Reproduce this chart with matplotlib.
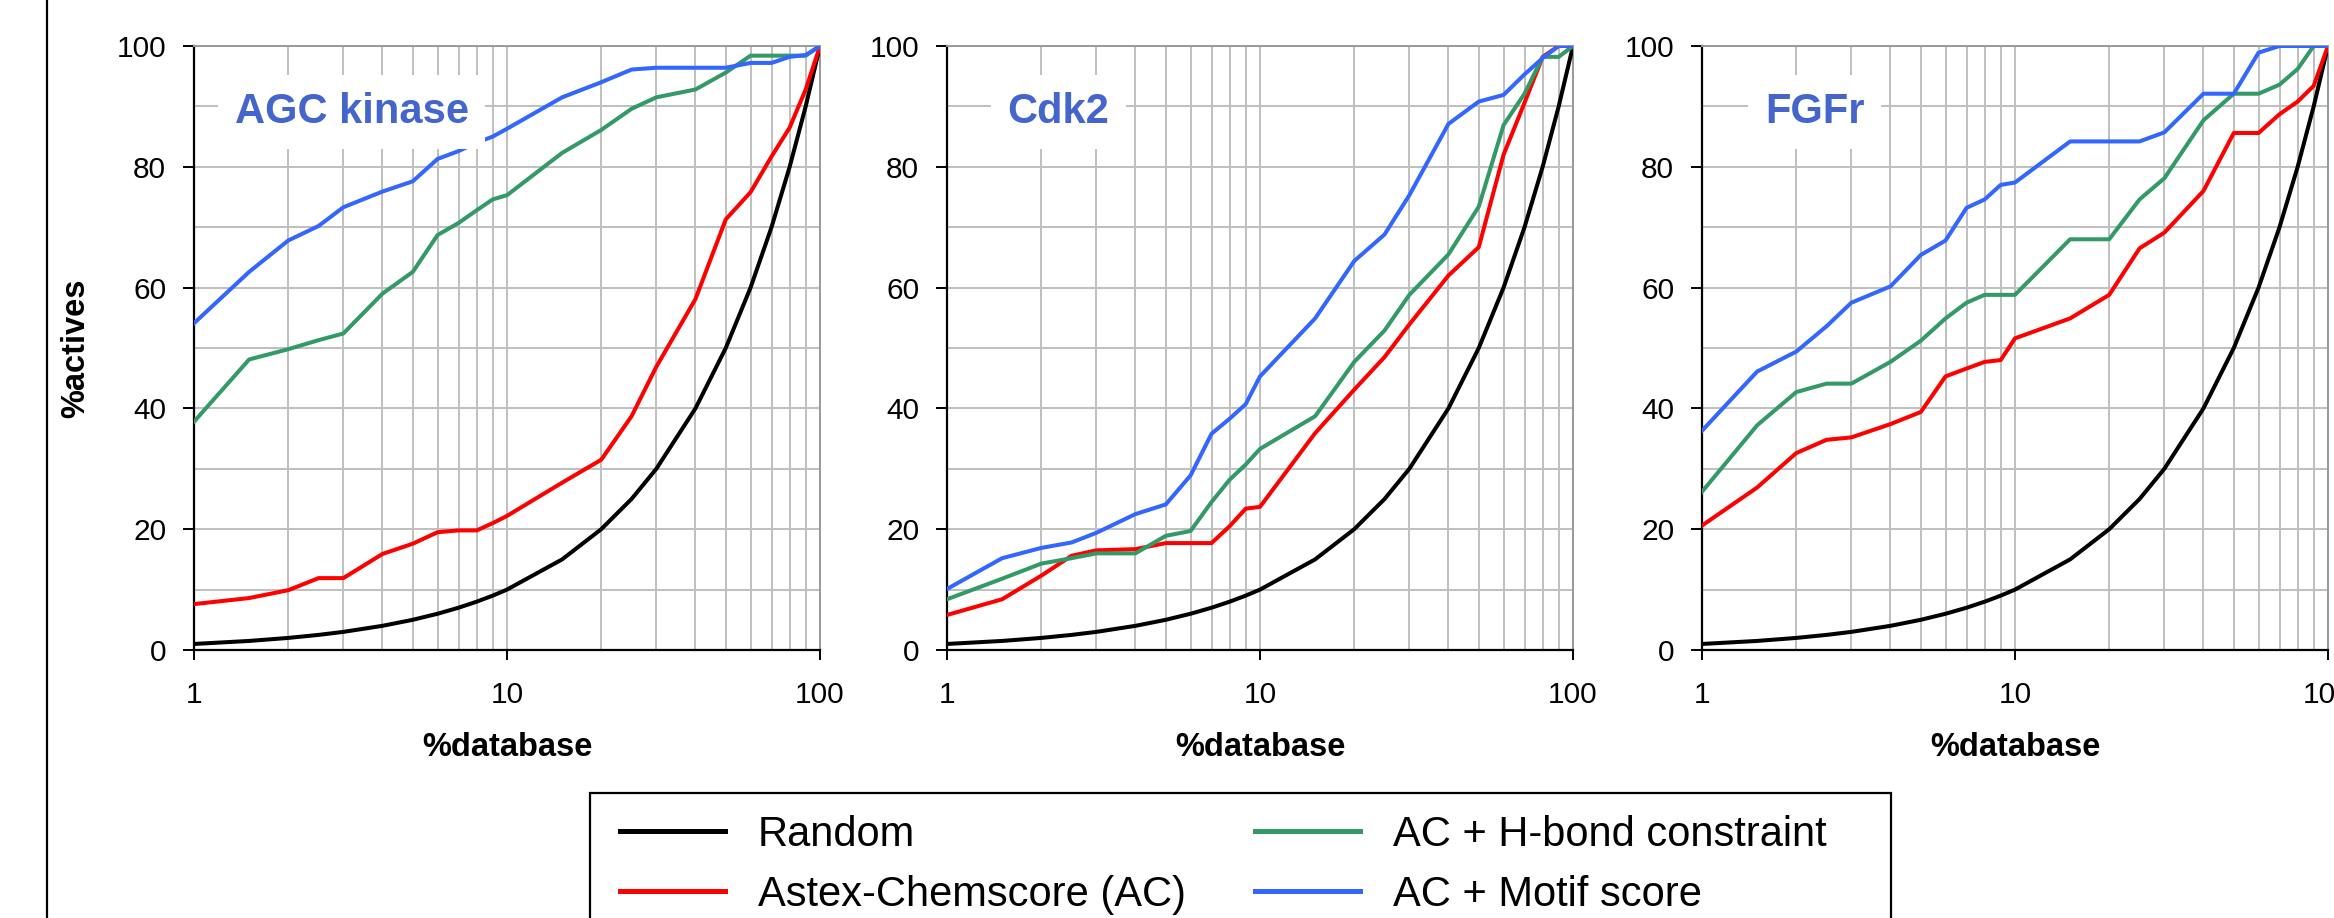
import matplotlib
matplotlib.use("Agg")
import matplotlib.pyplot as plt
from matplotlib.lines import Line2D
from matplotlib.patches import Rectangle
from matplotlib.ticker import MultipleLocator, FixedLocator, NullFormatter

plt.rcParams['font.family'] = ['Liberation Sans', 'DejaVu Sans']

# % database screened (shared x values)
pct_db = [1, 1.5, 2, 2.5, 3, 4, 5, 6, 7, 8, 9, 10, 15, 20, 25, 30, 40, 50, 60, 70, 80, 90, 100]
random_hits = [1, 1.5, 2, 2.5, 3, 4, 5, 6, 7, 8, 9, 10, 15, 20, 25, 30, 40, 50, 60, 70, 80, 90, 100]

panel_names = ["AGC kinase", "Cdk2", "FGFr"]

agc_ac = [7.6, 8.6, 9.9, 11.9, 11.9, 15.9, 17.6, 19.5, 19.8, 19.8, 21.0, 22.2, 27.7, 31.5,
          38.7, 46.9, 58.1, 71.3, 75.8, 81.7, 86.5, 92.8, 100]
agc_hbond = [37.8, 48.1, 49.8, 51.3, 52.4, 59.0, 62.6, 68.7, 70.7, 72.8, 74.6, 75.3, 82.3, 86.1,
             89.6, 91.5, 92.8, 95.6, 98.4, 98.4, 98.4, 98.4, 100]
agc_motif = [54.1, 62.6, 67.8, 70.2, 73.3, 75.9, 77.6, 81.3, 82.6, 84.0, 85.0, 86.3, 91.5, 94.0,
             96.1, 96.4, 96.4, 96.4, 97.2, 97.2, 98.2, 98.5, 100]

cdk2_ac = [5.8, 8.4, 12.3, 15.6, 16.5, 16.7, 17.7, 17.7, 17.7, 20.5, 23.4, 23.7, 35.9, 43.1,
           48.5, 53.9, 62.0, 66.7, 82.0, 90.6, 98.2, 100, 100]
cdk2_hbond = [8.4, 11.8, 14.3, 15.2, 16.0, 16.0, 18.9, 19.7, 24.5, 28.2, 30.7, 33.3, 38.7, 47.7,
              52.9, 58.8, 65.5, 73.4, 86.9, 92.1, 98.2, 98.2, 100]
cdk2_motif = [10.1, 15.2, 16.9, 17.8, 19.4, 22.5, 24.1, 28.9, 35.8, 38.3, 40.7, 45.3, 54.9, 64.4,
              68.8, 75.3, 87.1, 90.8, 91.9, 95.3, 98.0, 100, 100]

fgfr_ac = [20.6, 26.9, 32.6, 34.8, 35.2, 37.4, 39.4, 45.3, 46.6, 47.7, 48.0, 51.6, 54.9, 58.8,
           66.5, 69.1, 76.0, 85.6, 85.6, 88.7, 90.8, 93.4, 100]
fgfr_hbond = [26.2, 37.2, 42.7, 44.1, 44.1, 47.7, 51.2, 54.9, 57.5, 58.8, 58.8, 58.8, 68.0, 68.0,
              74.6, 78.1, 87.7, 92.1, 92.1, 93.6, 96.2, 100, 100]
fgfr_motif = [36.3, 46.1, 49.4, 53.6, 57.5, 60.2, 65.4, 67.8, 73.2, 74.6, 77.0, 77.4, 84.2, 84.2,
              84.2, 85.7, 92.1, 92.1, 98.9, 100, 100, 100, 100]

series_labels = ["Random", "Astex-Chemscore (AC)", "AC + H-bond constraint", "AC + Motif score"]
series_colors = ["#000000", "#FF0000", "#339966", "#3366FF"]

panel_data = [
    [random_hits, agc_ac, agc_hbond, agc_motif],
    [random_hits, cdk2_ac, cdk2_hbond, cdk2_motif],
    [random_hits, fgfr_ac, fgfr_hbond, fgfr_motif],
]
label_xpos = [0.2516, 0.178, 0.180]

W, H = 2334, 918
fig = plt.figure(figsize=(W / 100, H / 100), dpi=100)

lefts = [194, 947, 1702]
for i in range(3):
    ax = fig.add_axes([lefts[i] / W, 1 - 650 / H, 626 / W, 604 / H])
    for ys, lab, col in zip(panel_data[i], series_labels, series_colors):
        ax.plot(pct_db, ys, color=col, linewidth=2.9, label=lab, zorder=3)

    ax.set_xscale('log')
    ax.set_xlim(1, 100)
    ax.set_ylim(0, 100)
    ax.xaxis.set_major_locator(FixedLocator([1, 10, 100]))
    ax.set_xticklabels(["1", "10", "100"])
    ax.xaxis.set_minor_locator(FixedLocator([2, 3, 4, 5, 6, 7, 8, 9, 20, 30, 40, 50, 60, 70, 80, 90]))
    ax.xaxis.set_minor_formatter(NullFormatter())
    ax.yaxis.set_major_locator(MultipleLocator(20))
    ax.yaxis.set_minor_locator(MultipleLocator(10))
    ax.grid(True, which='both', color='#C0C0C0', linewidth=1.45, zorder=0)
    ax.set_axisbelow(True)

    ax.tick_params(axis='both', which='major', labelsize=21.5, width=1.4, color='black')
    ax.tick_params(axis='x', which='major', length=7.4, pad=15)
    ax.tick_params(axis='y', which='major', length=8, pad=12)
    ax.tick_params(which='minor', length=0)

    ax.spines['left'].set_linewidth(1.6)
    ax.spines['bottom'].set_linewidth(1.6)
    for s in ['top', 'right']:
        ax.spines[s].set_color('#999999')
        ax.spines[s].set_linewidth(1.4)

    ax.set_xlabel("%database", fontsize=23.5, fontweight='bold', va='center')
    ax.xaxis.set_label_coords(0.5, -(747.5 - 650) / 604)
    if i == 0:
        ax.set_ylabel("%actives", fontsize=23.5, fontweight='bold', va='center')
        ax.yaxis.set_label_coords((75.5 - 194) / 626, 0.5)

    ax.text(label_xpos[i], 0.891, panel_names[i], transform=ax.transAxes,
            fontsize=30, fontweight='bold', color='#4466CC', ha='center', va='center',
            zorder=5, bbox=dict(facecolor='white', edgecolor='none', pad=12))

# vertical rule on the left edge
fig.add_artist(Line2D([47 / W, 47 / W], [0, 1], transform=fig.transFigure,
                      color='black', linewidth=1.6))

# legend frame runs off the bottom of the figure
fig.add_artist(Rectangle((590 / W, -0.1), (1891 - 590) / W, (1 - 793 / H) + 0.1,
                         transform=fig.transFigure, fill=False, edgecolor='black',
                         linewidth=1.6))

handles = [Line2D([], [], color=c, linewidth=3.6) for c in series_colors]
leg = fig.legend(handles, series_labels, ncol=2, loc='upper left',
                 bbox_to_anchor=(620 / W, 1 - 815 / H), fontsize=30,
                 frameon=False, handlelength=2.52, handletextpad=0.79,
                 columnspacing=1.66, labelspacing=0.47, borderpad=0,
                 borderaxespad=0)

fig.savefig("out.png", dpi=100)
